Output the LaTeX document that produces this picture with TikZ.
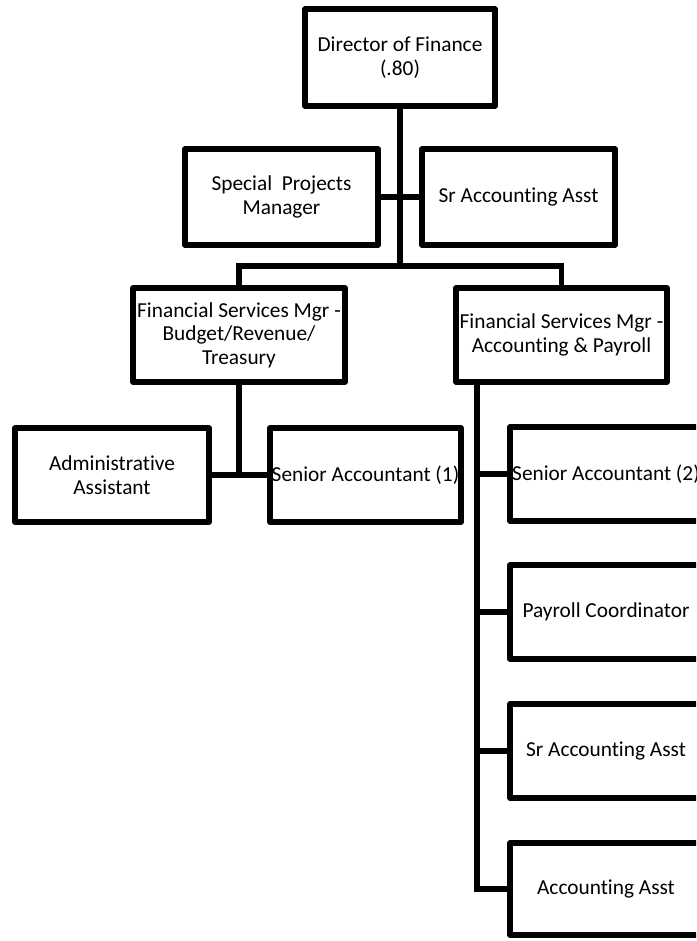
\documentclass[tikz,border=0pt]{standalone}
\usepackage{fontspec}
\setmainfont{Carlito}[Ligatures=NoCommon]
\begin{document}
\begin{tikzpicture}[x=0.75pt,y=-0.75pt,
  box/.style={draw, line width=3.9pt, line join=round, align=center, inner sep=0pt,
    font=\fontsize{16}{17.6}\selectfont, fill=white},
  sz/.style 2 args={minimum width=#1*0.75pt, minimum height=#2*0.75pt},
  conn/.style={line width=3.9pt, line join=miter}]
\path[use as bounding box] (0,0) rectangle (696,941);
\begin{scope}
\clip (0,0) rectangle (696,941);
% nodes
\node[box, sz={190}{97}] (dir) at (400,57.5) {Director of Finance\\(.80)};
\node[box, sz={193}{96}] (spm) at (281.5,197) {Special\ \ Projects\\Manager};
\node[box, sz={193}{96}] (saa1) at (518.5,197) {Sr Accounting Asst};
\node[box, sz={212}{94}] (fsm1) at (239,335) {Financial Services Mgr -\\Budget/Revenue/\\Treasury};
\node[box, sz={211}{94}] (fsm2) at (561.5,335) {Financial Services Mgr -\\Accounting \& Payroll};
\node[box, sz={194}{94}] (adm) at (112,475) {Administrative\\Assistant};
\node[box, sz={191}{94}] (sa1) at (365.5,475) {Senior Accountant (1)};
\node[box, sz={192}{94}] (sa2) at (606,474) {Senior Accountant (2)};
\node[box, sz={192}{94}] (pay) at (606,612) {Payroll Coordinator};
\node[box, sz={192}{94}] (saa2) at (606,751) {Sr Accounting Asst};
\node[box, sz={192}{92}] (acc) at (606,889) {Accounting Asst};
% junctions
\coordinate (j1) at (400,266);
\coordinate (tk) at (477,384);
% connectors
\draw[conn] (dir.south) -- (j1);
\draw[conn] (spm.east) -- (saa1.west);
\draw[conn] (fsm1.north) |- (j1) -| (fsm2.north);
\draw[conn] (fsm1.south) -- (fsm1.south |- adm.east);
\draw[conn] (adm.east) -- (sa1.west);
\draw[conn] (tk |- fsm2.south) |- (acc.west);
\draw[conn] (tk |- sa2.west) -- (sa2.west);
\draw[conn] (tk |- pay.west) -- (pay.west);
\draw[conn] (tk |- saa2.west) -- (saa2.west);
\end{scope}
\end{tikzpicture}
\end{document}
